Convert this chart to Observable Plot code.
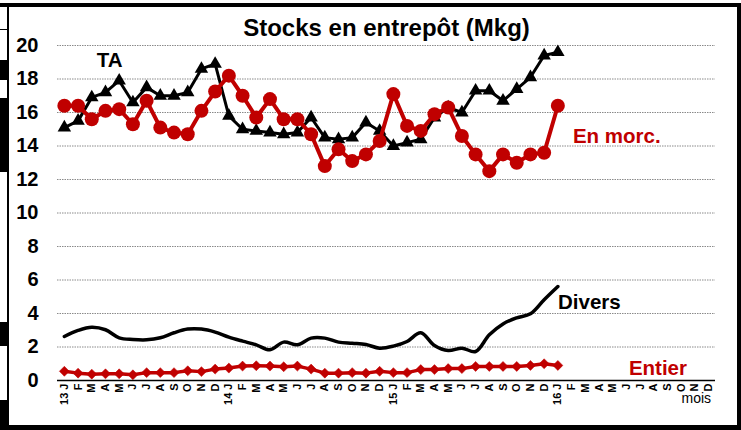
<!DOCTYPE html>
<html>
<head>
<meta charset="utf-8">
<script src="https://cdn.jsdelivr.net/npm/d3@7"></script>
<script src="https://cdn.jsdelivr.net/npm/@observablehq/plot@0.6"></script>
<style>
  html, body { margin: 0; padding: 0; background: #fff; }
  #wrap { position: relative; width: 741px; height: 430px; overflow: hidden; }
  #chart { position: absolute; left: 0; top: 0; }
  .blk { position: absolute; background: #000; }
</style>
</head>
<body>
<div id="wrap">
  <div id="chart"></div>
  <!-- frame decoration -->
  <div class="blk" style="left:0;top:3px;width:741px;height:4px"></div>
  <div class="blk" style="left:7px;top:3px;width:2px;height:427px"></div>
  <div class="blk" style="left:737px;top:3px;width:4px;height:427px"></div>
  <div class="blk" style="left:0;top:425px;width:741px;height:5px"></div>
  <div class="blk" style="left:0;top:29px;width:8px;height:1px"></div>
  <div class="blk" style="left:0;top:60px;width:8px;height:20px"></div>
  <div class="blk" style="left:0;top:98px;width:8px;height:74px"></div>
  <div class="blk" style="left:0;top:322px;width:8px;height:24px"></div>
  <div class="blk" style="left:0;top:400px;width:8px;height:30px"></div>
</div>
<script>
const monthLetters = ["J","F","M","A","M","J","J","A","S","O","N","D"];
const yearLabels = ["13", "14", "15", "16"];
const tickLabels = d3.range(48).map(i => i % 12 === 0 ? `${yearLabels[i / 12]} J` : monthLetters[i % 12]);

// 37 monthly values, Jan 2013 .. Jan 2016 (index 0..36)
const ta = [15.1,15.5,16.9,17.2,17.9,16.6,17.5,17.0,17.0,17.2,18.6,18.9,
            15.8,15.0,14.9,14.8,14.7,14.8,15.7,14.5,14.4,14.5,15.4,14.9,
            14.0,14.2,14.4,15.7,16.3,16.0,17.3,17.3,16.7,17.4,18.1,19.4,19.6];
const enMorc = [16.4,16.4,15.6,16.1,16.2,15.3,16.7,15.1,14.8,14.7,16.1,17.25,
                18.2,17.0,15.7,16.8,15.6,15.6,14.7,12.8,13.8,13.1,13.5,14.3,
                17.1,15.2,14.9,15.9,16.3,14.6,13.5,12.5,13.5,13.0,13.5,13.6,16.4];
const divers = [2.63,2.99,3.18,3.03,2.55,2.45,2.43,2.55,2.85,3.07,3.07,2.89,
                2.59,2.35,2.13,1.83,2.29,2.13,2.53,2.53,2.29,2.22,2.15,1.93,
                2.05,2.33,2.85,2.09,1.79,1.93,1.73,2.73,3.38,3.74,3.98,4.82,5.61];
const entier = [0.55,0.44,0.38,0.40,0.40,0.34,0.47,0.47,0.47,0.58,0.53,0.68,
                0.74,0.86,0.88,0.86,0.82,0.86,0.68,0.44,0.44,0.47,0.44,0.55,
                0.47,0.47,0.65,0.65,0.71,0.71,0.84,0.84,0.84,0.84,0.90,1.0,0.90];

const blackLabels = ["TA", "Divers"];
const blackLabelX = [3.3, 38.3];
const blackLabelY = [19.1, 4.65];
const redLabels = ["En morc.", "Entier"];
const redLabelX = [40.3, 43.3];
const redLabelY = [14.6, 0.72];
const unitLabel = ["mois"];
const unitX = [46.1];
const unitY = [-1.1];

const RED = "#c00000";
const FONT = "'Liberation Sans', Arial, Helvetica, sans-serif";

const toRows = arr => arr.map((v, i) => ({i, v}));
const rTA = toRows(ta), rMorc = toRows(enMorc), rDiv = toRows(divers), rEnt = toRows(entier);
const lab = (t, xs, ys) => t.map((s, k) => ({t: s, x: xs[k], y: ys[k]}));

const chart = Plot.plot({
  width: 741,
  height: 430,
  marginLeft: 57,
  marginRight: 26,
  marginTop: 45,
  marginBottom: 50,
  style: {fontFamily: FONT, background: "transparent", overflow: "visible"},
  x: {type: "linear", domain: [-0.5, 47.5], axis: null},
  y: {domain: [0, 20], axis: null},
  marks: [
    Plot.ruleY(d3.range(2, 21, 2), {stroke: "#8a8a8a", strokeWidth: 1, strokeDasharray: "1.5,1"}),
    Plot.ruleY([0], {stroke: "#000", strokeWidth: 1.3}),
    Plot.axisY({ticks: d3.range(0, 21, 2), tickSize: 0, tickPadding: 19, fontSize: 20, fontWeight: "bold", label: null, fill: "#000"}),
    Plot.axisX({ticks: d3.range(48), tickFormat: i => tickLabels[i], tickSize: 0, tickPadding: 3, tickRotate: -90, fontSize: 11, fontWeight: "bold", label: null, fill: "#000"}),
    // Divers
    Plot.line(rDiv, {x: "i", y: "v", stroke: "#000", strokeWidth: 3.5, curve: "catmull-rom"}),
    // Entier
    Plot.line(rEnt, {x: "i", y: "v", stroke: RED, strokeWidth: 3.5}),
    Plot.dot(rEnt, {x: "i", y: "v", symbol: "diamond2", r: 4.5, fill: RED, stroke: RED, strokeWidth: 0.5}),
    // TA
    Plot.line(rTA, {x: "i", y: "v", stroke: "#000", strokeWidth: 3}),
    Plot.dot(rTA, {x: "i", y: "v", symbol: "triangle", r: 5, fill: "#000"}),
    // En morc.
    Plot.line(rMorc, {x: "i", y: "v", stroke: RED, strokeWidth: 4}),
    Plot.dot(rMorc, {x: "i", y: "v", symbol: "circle", r: 7, fill: RED}),
    // series labels
    Plot.text(lab(blackLabels, blackLabelX, blackLabelY), {x: "x", y: "y", text: "t", fill: "#000", fontWeight: "bold", fontSize: 20.5}),
    Plot.text(lab(redLabels, redLabelX, redLabelY), {x: "x", y: "y", text: "t", fill: RED, fontWeight: "bold", fontSize: 20.5}),
    Plot.text(lab(unitLabel, unitX, unitY), {x: "x", y: "y", text: "t", fill: "#000", fontSize: 14}),
    // title
    Plot.text(["Stocks en entrepôt (Mkg)"], {frameAnchor: "top", dy: -17, fontSize: 24, fontWeight: "bold", fill: "#000", lineAnchor: "middle"})
  ]
});
document.getElementById("chart").appendChild(chart);
</script>
</body>
</html>
